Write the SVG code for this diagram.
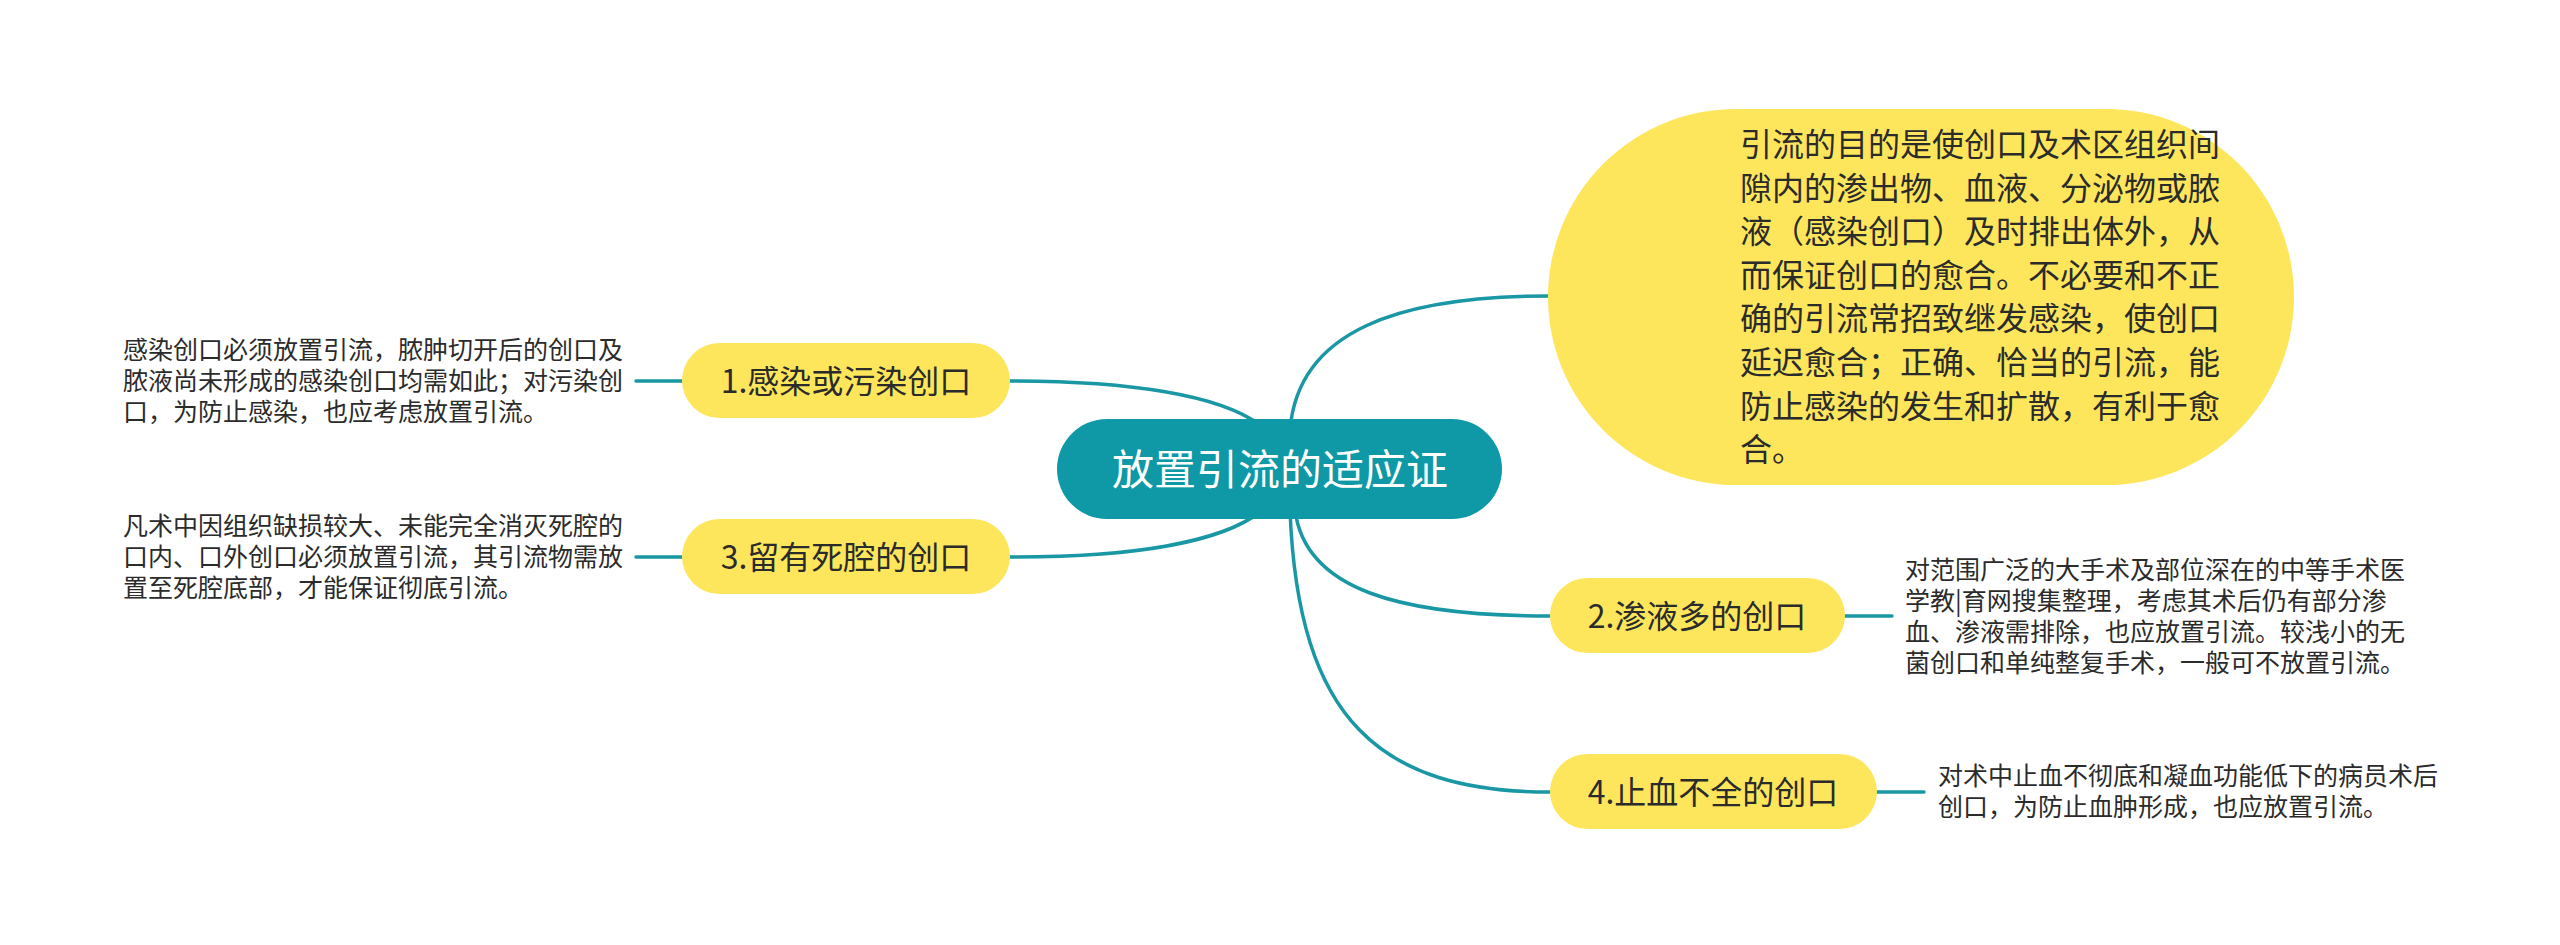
<svg xmlns="http://www.w3.org/2000/svg" width="2560" height="945" viewBox="0 0 2560 945">
<style>
.t{font-family:"Noto Sans CJK SC","Noto Sans",sans-serif;fill:#2b2b2b}
.s{font-size:25px}
.n{font-size:32px;text-anchor:middle}
.y{fill:#fde65c}
.c{fill:none;stroke:#1a97a4;stroke-width:3.5;stroke-linecap:round}
</style>
<rect width="2560" height="945" fill="#ffffff"/>
<g id="connectors">
<path class="c" d="M1290 430 C1298 330 1400 296 1550 296"/>
<path class="c" d="M1295 510 C1305 590 1400 616 1550 616"/>
<path class="c" d="M1290 510 C1298 720 1380 792 1550 792"/>
<path class="c" d="M1260 425 C1220 395 1130 381 1010 381"/>
<path class="c" d="M1260 512 C1220 543 1130 557 1010 557"/>
<path class="c" d="M636 381 L682 381"/>
<path class="c" d="M636 557 L682 557"/>
<path class="c" d="M1845 616 L1892 616"/>
<path class="c" d="M1877 792 L1924 792"/>
</g>
<g id="center">
<rect x="1057" y="419" width="445" height="100" rx="50" fill="#0f98a6"/>
<text x="1280" y="485" font-family="Noto Sans CJK SC,Noto Sans,sans-serif" font-size="42" fill="#ffffff" text-anchor="middle">放置引流的适应证</text>
</g>
<g id="node-main">
<rect class="y" x="1548" y="109" width="746" height="376" rx="188"/>
<text class="t" font-size="32"><tspan x="1740" y="156">引流的目的是使创口及术区组织间</tspan><tspan x="1740" y="199.6">隙内的渗出物、血液、分泌物或脓</tspan><tspan x="1740" y="243.2">液（感染创口）及时排出体外，从</tspan><tspan x="1740" y="286.8">而保证创口的愈合。不必要和不正</tspan><tspan x="1740" y="330.4">确的引流常招致继发感染，使创口</tspan><tspan x="1740" y="374">延迟愈合；正确、恰当的引流，能</tspan><tspan x="1740" y="417.6">防止感染的发生和扩散，有利于愈</tspan><tspan x="1740" y="461.2">合。</tspan></text>
</g>
<g id="node1">
<rect class="y" x="682" y="343" width="328" height="75" rx="37.5"/>
<text class="t n" x="846" y="393">1.感染或污染创口</text>
</g>
<g id="node1-note">
<text class="t s"><tspan x="123" y="359">感染创口必须放置引流，脓肿切开后的创口及</tspan><tspan x="123" y="390">脓液尚未形成的感染创口均需如此；对污染创</tspan><tspan x="123" y="421">口，为防止感染，也应考虑放置引流。</tspan></text>
</g>
<g id="node3">
<rect class="y" x="682" y="519" width="328" height="75" rx="37.5"/>
<text class="t n" x="846" y="569">3.留有死腔的创口</text>
</g>
<g id="node3-note">
<text class="t s"><tspan x="123" y="535">凡术中因组织缺损较大、未能完全消灭死腔的</tspan><tspan x="123" y="566">口内、口外创口必须放置引流，其引流物需放</tspan><tspan x="123" y="597">置至死腔底部，才能保证彻底引流。</tspan></text>
</g>
<g id="node2">
<rect class="y" x="1550" y="578" width="295" height="75" rx="37.5"/>
<text class="t n" x="1697" y="628">2.渗液多的创口</text>
</g>
<g id="node2-note">
<text class="t s"><tspan x="1905" y="579">对范围广泛的大手术及部位深在的中等手术医</tspan><tspan x="1905" y="610">学教|育网搜集整理，考虑其术后仍有部分渗</tspan><tspan x="1905" y="641">血、渗液需排除，也应放置引流。较浅小的无</tspan><tspan x="1905" y="672">菌创口和单纯整复手术，一般可不放置引流。</tspan></text>
</g>
<g id="node4">
<rect class="y" x="1550" y="754" width="327" height="75" rx="37.5"/>
<text class="t n" x="1713" y="804">4.止血不全的创口</text>
</g>
<g id="node4-note">
<text class="t s"><tspan x="1938" y="785">对术中止血不彻底和凝血功能低下的病员术后</tspan><tspan x="1938" y="816">创口，为防止血肿形成，也应放置引流。</tspan></text>
</g>
</svg>
